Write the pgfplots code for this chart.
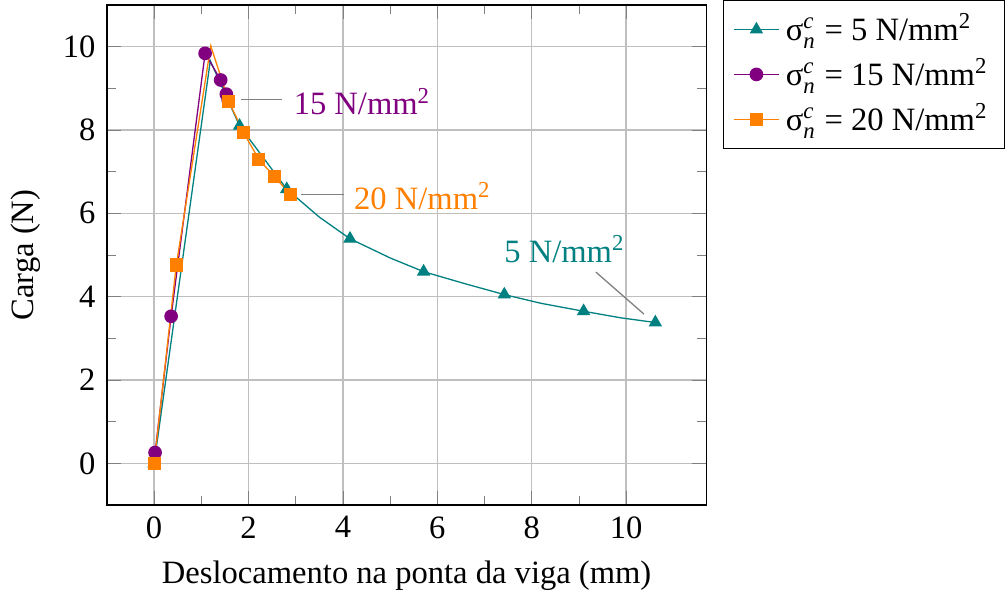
\documentclass[border=0pt]{standalone}
\usepackage{fontspec}
\setmainfont{Liberation Serif}
\usepackage{pgfplots}
\pgfplotsset{compat=1.18}

\newcommand{\sig}{$\mbox{σ}^{\mathit{c}}_{\mathit{n}}$}

\begin{document}
\begin{tikzpicture}
\begin{axis}[
    scale only axis,
    width=184pt,
    height=153.5pt,
    xmin=-1, xmax=11.7,
    ymin=-1, ymax=11,
    xtick={0,2,4,6,8,10},
    ytick={0,2,4,6,8,10},
    minor tick num=1,
    grid=major,
    major grid style={black!25, line width=0.4pt},
    /pgf/number format/assume math mode=true,
    xlabel={Deslocamento na ponta da viga (mm)},
    ylabel={Carga (N)},
    legend style={at={(1.028,1.01)}, anchor=north west, draw=black,
        cells={anchor=west}},
    legend cell align=left,
    legend image code/.code={
        \draw[#1, mark indices={2}] plot coordinates {
            (0cm,0cm) (0.24cm,0cm) (0.48cm,0cm)};
    },
]
% sigma = 5
\addplot[teal, mark=triangle*, mark size=2pt,
    mark indices={1,3,4,6,8,10,12,14}] coordinates {
    (0,0) (1.19,9.66) (1.81,8.10) (2.81,6.58) (3.5,5.91) (4.15,5.39)
    (5.0,4.93) (5.71,4.60) (6.59,4.31) (7.42,4.05) (8.2,3.84)
    (9.10,3.65) (9.9,3.49) (10.62,3.38)
};
\addlegendentry{\sig{} = 5 N/mm\textsuperscript{2}}
% sigma = 15
\addplot[violet, mark=*, mark size=1.9pt] coordinates {
    (0.02,0.26) (0.36,3.53) (1.08,9.84) (1.41,9.20) (1.53,8.86) (1.57,8.72)
};
\addlegendentry{\sig{} = 15 N/mm\textsuperscript{2}}
% sigma = 20
\addplot[orange, mark=square*, mark size=1.8pt,
    mark indices={1,2,4,5,6,7,8}] coordinates {
    (0,0) (0.47,4.76) (1.20,10.02) (1.58,8.69) (1.90,7.93) (2.22,7.29)
    (2.55,6.88) (2.88,6.46)
};
\addlegendentry{\sig{} = 20 N/mm\textsuperscript{2}}

\draw[gray] (axis cs:1.83,8.73) -- (axis cs:2.71,8.73);
\node[violet, anchor=center] at (axis cs:4.41,8.68) {15 N/mm\textsuperscript{2}};
\draw[gray] (axis cs:3.11,6.46) -- (axis cs:4.03,6.46);
\node[orange, anchor=center] at (axis cs:5.69,6.42) {20 N/mm\textsuperscript{2}};
\draw[gray] (axis cs:9.36,4.59) -- (axis cs:10.38,3.58);
\node[teal, anchor=center] at (axis cs:8.70,5.14) {5 N/mm\textsuperscript{2}};
\end{axis}
\end{tikzpicture}
\end{document}
